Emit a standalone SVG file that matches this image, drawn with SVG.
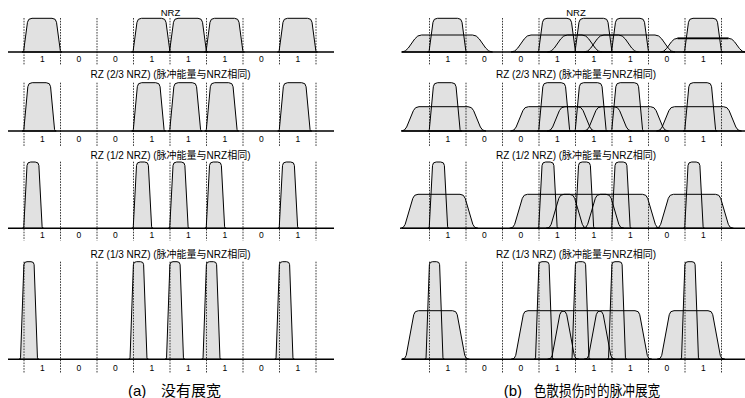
<svg xmlns="http://www.w3.org/2000/svg" xmlns:xlink="http://www.w3.org/1999/xlink" width="745" height="398" viewBox="0 0 745 398">
<style>
.f{fill:#e1e1e1;stroke:none}
.o{fill:none;stroke:#000;stroke-width:1;stroke-linejoin:round}
.thick{fill:none;stroke:#000;stroke-width:1.8}
.ax{stroke:#000;stroke-width:1.4}
.dl{fill:none;stroke:#222;stroke-width:0.9;stroke-dasharray:1.6 1.2}
.t{font-family:"Liberation Sans","Noto Sans CJK SC",sans-serif;font-size:10px;text-anchor:middle;fill:#000}
.n{font-family:"Liberation Sans",sans-serif;font-size:8.5px;text-anchor:middle;fill:#000}
.capL{font-family:"Liberation Sans",sans-serif;font-size:15px;fill:#000}
.capC{font-family:"Noto Sans CJK SC",sans-serif;font-size:15px;fill:#000}
</style>
<defs>
<path id="N" d="M-1.5,0Q0,0 0.2,-1.5L3.97,-29.7Q4.5,-33.7 8.5,-33.7L28.5,-33.7Q32.5,-33.7 33.03,-29.7L36.8,-1.5Q37,0 38.5,0Z"/>
<path id="R23" d="M-1.5,0Q0,0 0.14,-1.5L4.13,-44.3Q4.5,-48.3 8.5,-48.3L22.5,-48.3Q26.5,-48.3 26.87,-44.3L30.86,-1.5Q31,0 32.5,0Z"/>
<path id="R12" d="M-1.5,0Q0,0 0.08,-1.5L3.32,-62.8Q3.5,-66.3 7,-66.3L11.5,-66.3Q15,-66.3 15.18,-62.8L18.42,-1.5Q18.5,0 20,0Z"/>
<path id="R13" d="M-1.5,0Q0,0 0.05,-1.5L3.39,-94.6Q3.5,-97.6 6.5,-97.6L10.5,-97.6Q13.5,-97.6 13.61,-94.6L16.95,-1.5Q17,0 18.5,0Z"/>
<path id="BN" d="M-4,0Q0,0 2.82,-4L9.18,-13Q12,-17 16,-17L67,-17Q71,-17 73.82,-13L80.18,-4Q83,0 87,0Z"/>
<path id="BN2" d="M-3.5,0Q0,0 2.55,-3.5L7.45,-10.2Q10,-13.7 13.5,-13.7L64.5,-13.7Q68,-13.7 70.55,-10.2L75.45,-3.5Q78,0 81.5,0Z"/>
<path id="B23" d="M-4,0Q0,0 1.65,-4L8.35,-20.3Q10,-24.3 14,-24.3L63,-24.3Q67,-24.3 68.65,-20.3L75.35,-4Q77,0 81,0Z"/>
<path id="B12" d="M-4,0Q0,0 1.18,-4L8.82,-30Q10,-34 14,-34L56,-34Q60,-34 61.18,-30L68.82,-4Q70,0 74,0Z"/>
<path id="B13" d="M-4,0Q0,0 0.74,-4L8.26,-44.6Q9,-48.6 13,-48.6L47,-48.6Q51,-48.6 51.74,-44.6L59.26,-4Q60,0 64,0Z"/>
<g id="tN"><use xlink:href="#N" x="23.5"/><use xlink:href="#N" x="133"/><use xlink:href="#N" x="169.5"/><use xlink:href="#N" x="206"/><use xlink:href="#N" x="279"/></g>
<g id="t23"><use xlink:href="#R23" x="23.7"/><use xlink:href="#R23" x="133.2"/><use xlink:href="#R23" x="169.7"/><use xlink:href="#R23" x="206.2"/><use xlink:href="#R23" x="279.2"/></g>
<g id="t12"><use xlink:href="#R12" x="23.7"/><use xlink:href="#R12" x="133.2"/><use xlink:href="#R12" x="169.7"/><use xlink:href="#R12" x="206.2"/><use xlink:href="#R12" x="279.2"/></g>
<g id="t13"><use xlink:href="#R13" x="20.5"/><use xlink:href="#R13" x="130"/><use xlink:href="#R13" x="166.5"/><use xlink:href="#R13" x="203"/><use xlink:href="#R13" x="276"/></g>
<g id="bN"><use xlink:href="#BN" x="405.5"/><use xlink:href="#BN" x="515"/><use xlink:href="#BN" x="551.5"/><use xlink:href="#BN" x="588"/><use xlink:href="#BN2" x="664"/></g>
<g id="b23"><use xlink:href="#B23" x="405"/><use xlink:href="#B23" x="514.5"/><use xlink:href="#B23" x="551"/><use xlink:href="#B23" x="587.5"/><use xlink:href="#B23" x="660.5"/></g>
<g id="b12"><use xlink:href="#B12" x="404"/><use xlink:href="#B12" x="513.5"/><use xlink:href="#B12" x="550"/><use xlink:href="#B12" x="586.5"/><use xlink:href="#B12" x="659.5"/></g>
<g id="b13"><use xlink:href="#B13" x="405.5"/><use xlink:href="#B13" x="515"/><use xlink:href="#B13" x="551.5"/><use xlink:href="#B13" x="588"/><use xlink:href="#B13" x="661"/></g>
<g id="lab" class="n">
<text x="42.25">1</text><text x="78.75">0</text><text x="115.25">0</text><text x="151.75">1</text><text x="188.25">1</text><text x="224.75">1</text><text x="261.25">0</text><text x="297.75">1</text>
<text x="447.75">1</text><text x="484.25">0</text><text x="520.75">0</text><text x="557.25">1</text><text x="593.75">1</text><text x="630.25">1</text><text x="666.75">0</text><text x="703.25">1</text>
</g>
</defs>
<rect width="745" height="398" fill="#fff"/>

<g id="row1">
<use xlink:href="#tN" y="52" class="f"/><use xlink:href="#bN" y="52" class="f"/><use xlink:href="#tN" x="405.5" y="52" class="f"/>
<path class="dl" d="M24,18V65M60.5,18V65M97,18V65M133.5,18V65M170,18V65M206.5,18V65M243,18V65M279.5,18V65M316,18V65M429.5,18V65M466,18V65M502.5,18V65M539,18V65M575.5,18V65M612,18V65M648.5,18V65M685,18V65M721.5,18V65"/>
<use xlink:href="#bN" y="52" class="o"/><use xlink:href="#tN" y="52" class="o"/><use xlink:href="#tN" x="405.5" y="52" class="o"/>
<path class="thick" d="M677.5,38.3H728.5"/>
<path class="ax" d="M8,52H334M402,52H745"/>
<use xlink:href="#lab" y="62"/>
<text class="t" x="170.5" y="15.7" style="font-size:9.5px">NRZ</text>
<text class="t" x="576" y="15.7" style="font-size:9.5px">NRZ</text>
</g>

<g id="row2">
<use xlink:href="#t23" y="131" class="f"/><use xlink:href="#b23" y="131" class="f"/><use xlink:href="#t23" x="405.5" y="131" class="f"/>
<path class="dl" d="M24,82.7V146M60.5,82.7V146M97,82.7V146M133.5,82.7V146M170,82.7V146M206.5,82.7V146M243,82.7V146M279.5,82.7V146M316,82.7V146M429.5,82.7V146M466,82.7V146M502.5,82.7V146M539,82.7V146M575.5,82.7V146M612,82.7V146M648.5,82.7V146M685,82.7V146M721.5,82.7V146"/>
<use xlink:href="#b23" y="131" class="o"/><use xlink:href="#t23" y="131" class="o"/><use xlink:href="#t23" x="405.5" y="131" class="o"/>
<path class="ax" d="M8,131H334M402,131H745"/>
<use xlink:href="#lab" y="141.5"/>
<text class="t" x="170.5" y="78.3">RZ (2/3 NRZ) (脉冲能量与NRZ相同)</text>
<text class="t" x="576" y="78.3">RZ (2/3 NRZ) (脉冲能量与NRZ相同)</text>
</g>

<g id="row3">
<use xlink:href="#t12" y="228.3" class="f"/><use xlink:href="#b12" y="228.3" class="f"/><use xlink:href="#t12" x="405.5" y="228.3" class="f"/>
<path class="dl" d="M24,161.7V240.5M60.5,161.7V240.5M97,161.7V240.5M133.5,161.7V240.5M170,161.7V240.5M206.5,161.7V240.5M243,161.7V240.5M279.5,161.7V240.5M316,161.7V240.5M429.5,161.7V240.5M466,161.7V240.5M502.5,161.7V240.5M539,161.7V240.5M575.5,161.7V240.5M612,161.7V240.5M648.5,161.7V240.5M685,161.7V240.5M721.5,161.7V240.5"/>
<use xlink:href="#b12" y="228.3" class="o"/><use xlink:href="#t12" y="228.3" class="o"/><use xlink:href="#t12" x="405.5" y="228.3" class="o"/>
<path class="ax" d="M8,228.3H334M402,228.3H745"/>
<use xlink:href="#lab" y="237.8"/>
<text class="t" x="170.5" y="158.5">RZ (1/2 NRZ) (脉冲能量与NRZ相同)</text>
<text class="t" x="576" y="158.5">RZ (1/2 NRZ) (脉冲能量与NRZ相同)</text>
</g>

<g id="row4">
<use xlink:href="#t13" y="359.3" class="f"/><use xlink:href="#b13" y="359.3" class="f"/><use xlink:href="#t13" x="405.5" y="359.3" class="f"/>
<path class="dl" d="M24,261.7V373.5M60.5,261.7V373.5M97,261.7V373.5M133.5,261.7V373.5M170,261.7V373.5M206.5,261.7V373.5M243,261.7V373.5M279.5,261.7V373.5M316,261.7V373.5M429.5,261.7V373.5M466,261.7V373.5M502.5,261.7V373.5M539,261.7V373.5M575.5,261.7V373.5M612,261.7V373.5M648.5,261.7V373.5M685,261.7V373.5M721.5,261.7V373.5"/>
<use xlink:href="#b13" y="359.3" class="o"/><use xlink:href="#t13" y="359.3" class="o"/><use xlink:href="#t13" x="405.5" y="359.3" class="o"/>
<path class="ax" d="M8,359.3H334M402,359.3H745"/>
<use xlink:href="#lab" y="370.5"/>
<text class="t" x="170.5" y="258">RZ (1/3 NRZ) (脉冲能量与NRZ相同)</text>
<text class="t" x="576" y="258">RZ (1/3 NRZ) (脉冲能量与NRZ相同)</text>
</g>

<g id="captions">
<text class="capL" x="128" y="395.5">(a)</text>
<text class="capC" x="161" y="395.5">没有展宽</text>
<text class="capL" x="503.7" y="395.5">(b)</text>
<text class="capC" x="533.7" y="395.5" textLength="126.6" lengthAdjust="spacingAndGlyphs">色散损伤时的脉冲展宽</text>
</g>
</svg>
